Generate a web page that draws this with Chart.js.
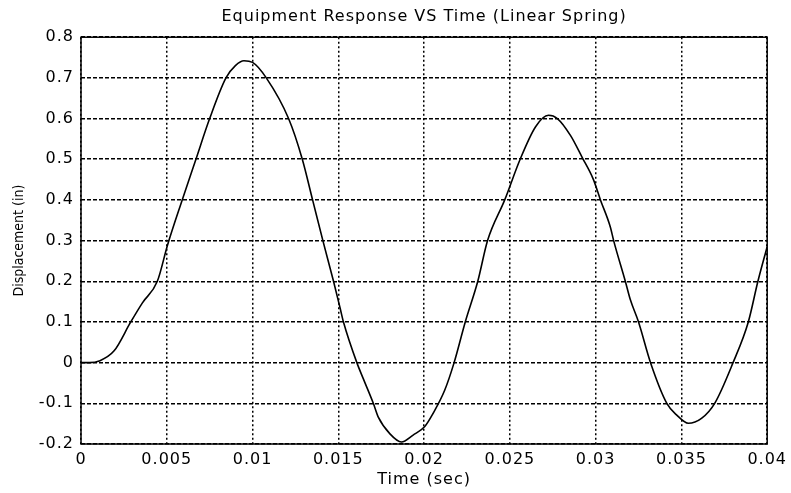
<!DOCTYPE html>
<html>
<head>
<meta charset="utf-8">
<script src="https://cdn.jsdelivr.net/npm/chart.js@4.4.0/dist/chart.umd.min.js"></script>
<style>
  html, body { margin: 0; padding: 0; background: #fff; }
  #wrap { width: 791px; height: 493px; }
</style>
</head>
<body>
<div id="wrap"><canvas id="respChart" width="791" height="493"></canvas></div>
<script>
// time (sec) and displacement (in)
const timeSec = [0, 0.0005, 0.00106, 0.00193, 0.0029, 0.00358, 0.00445, 0.00505, 0.0059, 0.0067,
  0.0075, 0.00845, 0.009, 0.0095, 0.01, 0.0108, 0.0121, 0.0129, 0.0135, 0.0141,
  0.01472, 0.01511, 0.0153, 0.01608, 0.01646, 0.01704, 0.01733, 0.01801, 0.01868, 0.01936,
  0.02004, 0.02052, 0.0212, 0.02175, 0.0224, 0.02313, 0.0237, 0.0247, 0.0256, 0.0265,
  0.02725, 0.02777, 0.02854, 0.02922, 0.02986, 0.03028, 0.03086, 0.03105, 0.03173, 0.03202,
  0.0325, 0.0332, 0.03415, 0.03473, 0.0354, 0.03617, 0.03694, 0.03801, 0.0389, 0.03946, 0.04];
const displacement = [0, 0, 0.004, 0.029, 0.1, 0.147, 0.2, 0.29, 0.4, 0.5,
  0.6, 0.7, 0.73, 0.742, 0.738, 0.7, 0.6, 0.5, 0.4, 0.3,
  0.2, 0.133, 0.1, 0, -0.04, -0.1, -0.134, -0.175, -0.195, -0.178,
  -0.157, -0.125, -0.068, 0, 0.1, 0.2, 0.3, 0.4, 0.5, 0.58,
  0.608, 0.6, 0.558, 0.504, 0.451, 0.4, 0.333, 0.3, 0.2, 0.155,
  0.1, 0, -0.1, -0.129, -0.149, -0.137, -0.1, 0, 0.1, 0.2, 0.285];

const xTickValues = [0, 0.005, 0.01, 0.015, 0.02, 0.025, 0.03, 0.035, 0.04];
const xTickLabels = ['0', '0.005', '0.01', '0.015', '0.02', '0.025', '0.03', '0.035', '0.04'];
const yTickValues = [-0.2, -0.1, 0, 0.1, 0.2, 0.3, 0.4, 0.5, 0.6, 0.7, 0.8];
const yTickLabels = ['-0.2', '-0.1', '0', '0.1', '0.2', '0.3', '0.4', '0.5', '0.6', '0.7', '0.8'];

const points = timeSec.map((t, i) => ({ x: t, y: displacement[i] }));
const textFont = 'DejaVu Sans, Verdana, sans-serif';

// box around the plot area like the matlab axes, and the wide lettering
const frameBox = {
  id: 'frameBox',
  beforeDraw(chart) {
    chart.ctx.letterSpacing = '1px';
  },
  afterDraw(chart) {
    const a = chart.chartArea, c = chart.ctx;
    c.save();
    c.strokeStyle = '#000';
    c.lineWidth = 1.5;
    c.strokeRect(a.left, a.top, a.right - a.left, a.bottom - a.top);
    c.restore();
  }
};

const ctx = document.getElementById('respChart').getContext('2d');
const chart = new Chart(ctx, {
  type: 'line',
  data: {
    datasets: [{
      data: points,
      borderColor: '#000',
      borderWidth: 1.6,
      pointRadius: 0,
      fill: false,
      cubicInterpolationMode: 'monotone'
    }]
  },
  options: {
    responsive: false,
    animation: false,
    devicePixelRatio: 1,
    layout: { padding: { left: 0, right: 20, top: 0, bottom: 0 } },
    plugins: {
      legend: { display: false },
      tooltip: { enabled: false },
      title: {
        display: true,
        fullSize: false,
        text: 'Equipment Response VS Time (Linear Spring)',
        color: '#000',
        font: { family: textFont, size: 16, weight: 'normal' },
        padding: { top: 7, bottom: 11 }
      }
    },
    scales: {
      x: {
        type: 'linear',
        min: 0,
        max: 0.04,
        afterBuildTicks: s => { s.ticks = xTickValues.map(v => ({ value: v })); },
        afterFit: s => { s.height = 49; },
        ticks: {
          color: '#000',
          padding: 6,
          maxRotation: 0,
          autoSkip: false,
          font: { family: textFont, size: 16 },
          callback: (v, i) => xTickLabels[i]
        },
        grid: { color: '#000', lineWidth: 1.5, drawTicks: false },
        border: { display: false, dash: [2, 2.5] },
        title: {
          display: true,
          text: 'Time (sec)',
          color: '#000',
          font: { family: textFont, size: 16 },
          padding: { top: 0, bottom: 4 }
        }
      },
      y: {
        min: -0.2,
        max: 0.8,
        afterBuildTicks: s => { s.ticks = yTickValues.map(v => ({ value: v })); },
        afterFit: s => { s.width = 81; },
        ticks: {
          color: '#000',
          padding: 7,
          autoSkip: false,
          font: { family: textFont, size: 16 },
          callback: (v, i) => yTickLabels[i]
        },
        grid: { color: '#000', lineWidth: 1.5, drawTicks: false },
        border: { display: false, dash: [4, 2] },
        title: {
          display: true,
          text: 'Displacement (in)',
          color: '#000',
          font: { family: 'Liberation Sans Narrow, DejaVu Sans Condensed, sans-serif', size: 14 },
          padding: { top: 11, bottom: 0 }
        }
      }
    }
  },
  plugins: [frameBox]
});

// the y label is narrow type, so no extra spacing there
const yScale = chart.scales.y;
const drawYTitle = yScale.drawTitle.bind(yScale);
yScale.drawTitle = function () {
  chart.ctx.letterSpacing = '0px';
  drawYTitle();
  chart.ctx.letterSpacing = '1px';
};
chart.draw();
</script>
</body>
</html>
